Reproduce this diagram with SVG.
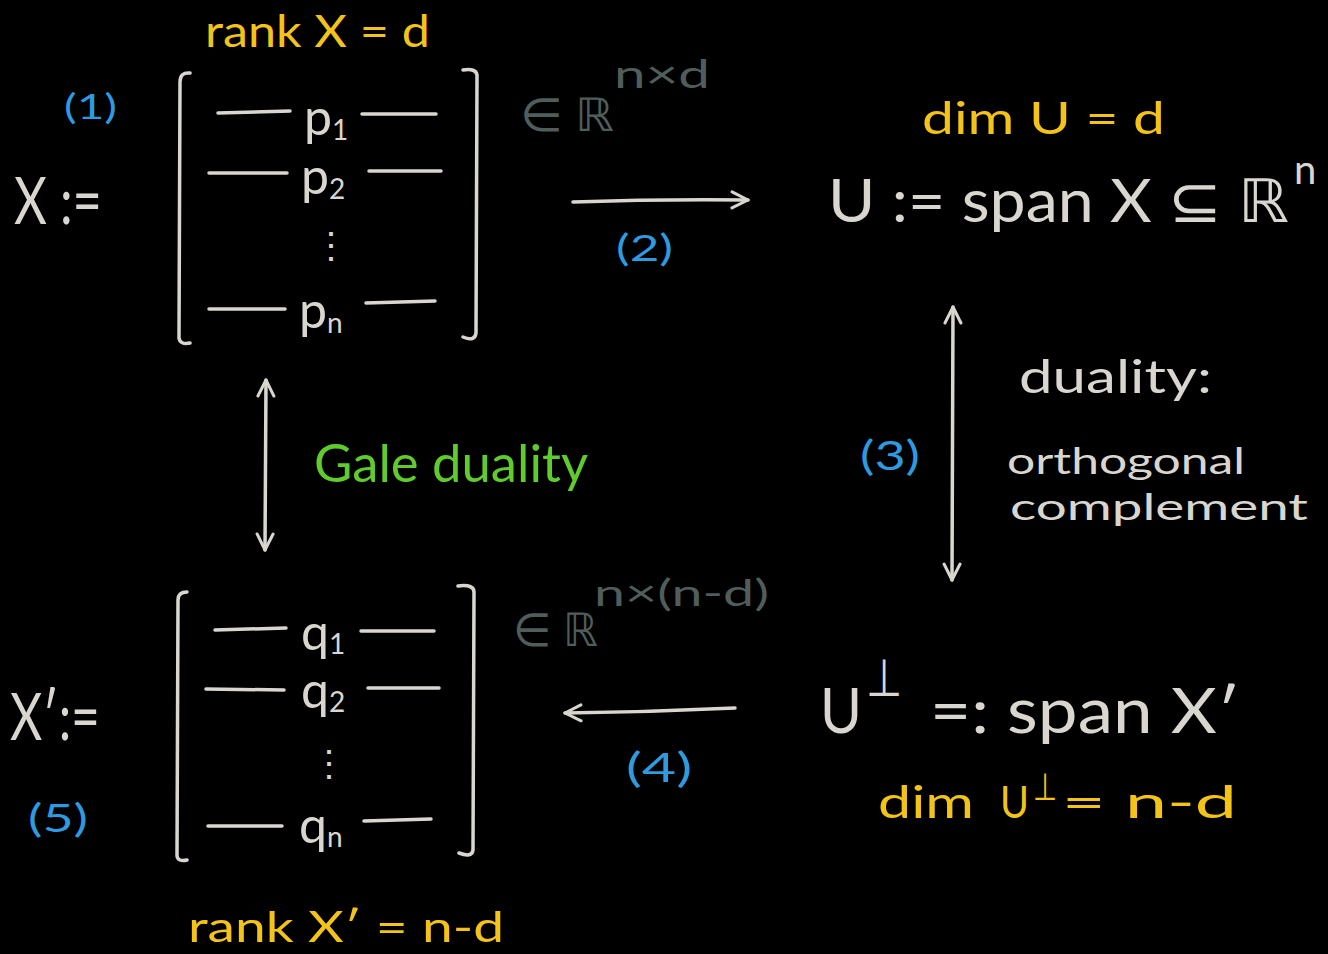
<svg xmlns="http://www.w3.org/2000/svg" width="1328" height="954" viewBox="0 0 1328 954">
<defs>
<style>
text{font-family:"Lato","Open Sans","Liberation Sans",sans-serif;font-weight:400}
.w{fill:#d9d6d0}
.y{fill:#f3c318}
.b{fill:#2e9be0}
.g{fill:#5fcb2c}
.gr{fill:#4f5d5b}
.ln{stroke:#d9d6d0;stroke-width:3.5;fill:none;stroke-linecap:round;stroke-linejoin:round}
</style>
<marker id="ah" viewBox="0 0 20 20" refX="18" refY="10" markerWidth="20" markerHeight="20" markerUnits="userSpaceOnUse" orient="auto-start-reverse">
<path d="M2,2 L18,10 L2,18" fill="none" stroke="#d9d6d0" stroke-width="3" stroke-linecap="round" stroke-linejoin="round"/>
</marker>
</defs>
<rect width="1328" height="954" fill="#000"/>

<g id="matrix-X">
<text class="y" x="205" y="47" font-size="44" textLength="225" lengthAdjust="spacingAndGlyphs">rank X = d</text>
<text class="b" x="64" y="119" font-size="34" textLength="53" lengthAdjust="spacingAndGlyphs">(1)</text>
<text class="w" x="14" y="224" font-size="66" textLength="88" lengthAdjust="spacingAndGlyphs">X :=</text>
<path class="ln" d="M190,73 Q180,72 180,82 L179,338 Q180,345 190,343"/>
<path class="ln" d="M463,70 Q476,68 477,75 L476,333 Q475,342 463,337"/>
<path class="ln" d="M218,113 L290,111 M362,114 L436,114 M209,173 L287,173 M369,171 L441,171 M209,309 L285,309 M366,303 L435,301"/>
<text class="w" x="304" y="135" font-size="50">p<tspan font-size="28" dy="5">1</tspan></text>
<text class="w" x="301" y="194" font-size="50">p<tspan font-size="28" dy="5">2</tspan></text>
<text class="w" x="313" y="258" font-size="36">⋮</text>
<text class="w" x="299" y="328" font-size="50">p<tspan font-size="28" dy="5">n</tspan></text>
<text class="gr" x="520" y="131" font-size="46" textLength="94" lengthAdjust="spacingAndGlyphs">∈ ℝ</text>
<text class="gr" x="614" y="88" font-size="38" textLength="96" lengthAdjust="spacingAndGlyphs">n×d</text>
</g>

<g id="subspace-U">
<text class="y" x="922" y="134" font-size="44" textLength="243" lengthAdjust="spacingAndGlyphs">dim U = d</text>
<text class="w" x="828" y="222" font-size="60" textLength="462" lengthAdjust="spacingAndGlyphs">U := span X ⊆ ℝ</text>
<text class="w" x="1294" y="184" font-size="40">n</text>
</g>

<g id="duality-label">
<text class="w" x="1019" y="393" font-size="46" textLength="193" lengthAdjust="spacingAndGlyphs">duality:</text>
<text class="w" x="1007" y="474" font-size="36" textLength="238" lengthAdjust="spacingAndGlyphs">orthogonal</text>
<text class="w" x="1010" y="520" font-size="36" textLength="298" lengthAdjust="spacingAndGlyphs">complement</text>
</g>

<g id="gale-label">
<text class="g" x="314" y="482" font-size="52" textLength="274" lengthAdjust="spacingAndGlyphs">Gale duality</text>
</g>

<g id="matrix-Xprime">
<text class="w" x="10" y="740" font-size="66" textLength="90" lengthAdjust="spacingAndGlyphs">X′:=</text>
<text class="b" x="28" y="832" font-size="38" textLength="60" lengthAdjust="spacingAndGlyphs">(5)</text>
<path class="ln" d="M187,592 Q178,592 178,600 L177,856 Q178,862 187,860"/>
<path class="ln" d="M458,586 Q474,584 474,592 L473,850 Q472,858 459,853"/>
<path class="ln" d="M215,630 L286,628 M361,631 L434,631 M206,689 L284,690 M368,688 L439,688 M208,826 L282,826 M364,821 L431,819"/>
<text class="w" x="301" y="650" font-size="50">q<tspan font-size="28" dy="4">1</tspan></text>
<text class="w" x="301" y="708" font-size="50">q<tspan font-size="28" dy="4">2</tspan></text>
<text class="w" x="311" y="776" font-size="36">⋮</text>
<text class="w" x="299" y="843" font-size="50">q<tspan font-size="28" dy="4">n</tspan></text>
<text class="gr" x="513" y="646" font-size="46" textLength="84" lengthAdjust="spacingAndGlyphs">∈ ℝ</text>
<text class="gr" x="594" y="606" font-size="36" textLength="175" lengthAdjust="spacingAndGlyphs">n×(n-d)</text>
<text class="y" x="188" y="942" font-size="42" textLength="316" lengthAdjust="spacingAndGlyphs">rank X′ = n-d</text>
</g>

<g id="subspace-Uperp">
<text class="w" x="820" y="733" font-size="62" textLength="42" lengthAdjust="spacingAndGlyphs">U</text>
<text class="w" x="866" y="696" font-size="52" textLength="36" lengthAdjust="spacingAndGlyphs">⊥</text>
<text class="w" x="930" y="733" font-size="62" textLength="310" lengthAdjust="spacingAndGlyphs">=: span X′</text>
<text class="y" x="878" y="818" font-size="44" textLength="96" lengthAdjust="spacingAndGlyphs">dim</text>
<text class="y" x="1000" y="818" font-size="44" textLength="29" lengthAdjust="spacingAndGlyphs">U</text>
<text class="y" x="1033" y="800" font-size="38" textLength="24" lengthAdjust="spacingAndGlyphs">⊥</text>
<text class="y" x="1062" y="818" font-size="44" textLength="175" lengthAdjust="spacingAndGlyphs">= n-d</text>
</g>

<g id="connectors">
<path class="ln" d="M573,202 Q660,199 748,200" marker-end="url(#ah)"/>
<text class="b" x="616" y="261" font-size="36" textLength="57" lengthAdjust="spacingAndGlyphs">(2)</text>
<path class="ln" d="M953,307 L952,580" marker-start="url(#ah)" marker-end="url(#ah)"/>
<text class="b" x="860" y="470" font-size="40" textLength="60" lengthAdjust="spacingAndGlyphs">(3)</text>
<path class="ln" d="M735,708 Q650,712 565,713" marker-end="url(#ah)"/>
<text class="b" x="626" y="782" font-size="40" textLength="66" lengthAdjust="spacingAndGlyphs">(4)</text>
<path class="ln" d="M266,380 L265,550" marker-start="url(#ah)" marker-end="url(#ah)"/>
</g>
</svg>
